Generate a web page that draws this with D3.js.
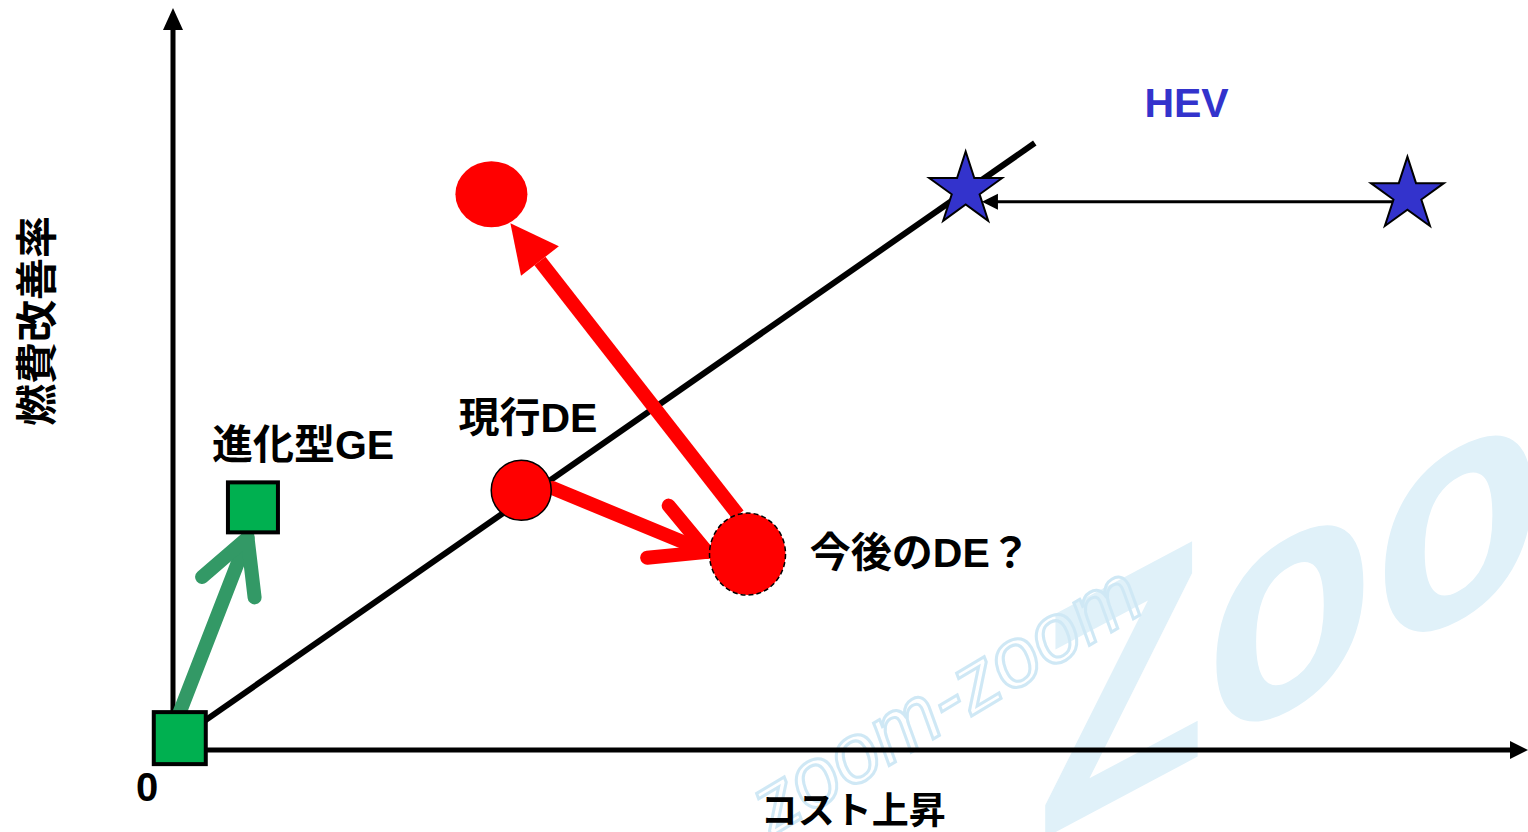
<!DOCTYPE html>
<html>
<head>
<meta charset="utf-8">
<script src="https://cdn.jsdelivr.net/npm/d3@7"></script>
<style>
body { margin: 0; background: #fff; }
svg { display: block; }
</style>
</head>
<body>
<div id="chart"></div>
<script>
const W = 1528, H = 832;

// abstract units: x = cost increase, y = fuel economy improvement (0..100)
const trendLine = [[0.5, 1.6], [63.6, 81.8]];

const squares = [
    { name: 'origin', x: 0.5, y: 1.6 },
    { name: 'GE', x: 5.9, y: 32.7 }
];

const circles = [
    { name: 'currentDE', x: 25.7, y: 35.0 },
    { name: 'futureDE', x: 42.4, y: 26.4 },
    { name: 'targetDE', x: 23.5, y: 74.9 }
];

const stars = [
    { name: 'HEV', x: 58.5, y: 75.5 },
    { name: 'HEVcost', x: 91.1, y: 74.8 }
];

const arrows = [
    { name: 'ge', from: [0.5, 5.1], to: [5.5, 28.6], head: 'open' },
    { name: 'deCost', from: [28.0, 35.3], to: [39.4, 26.7], head: 'open' },
    { name: 'deGoal', from: [41.7, 31.7], to: [24.9, 71.0], head: 'solid' },
    { name: 'hev', from: [90.0, 73.9], to: [59.7, 73.9], head: 'thin' }
];

const labels = [
    { text: 'HEV', x: 74.8, y: 85.3, anchor: 'middle', color: '#3333cc' },
    { text: '現行DE', x: 26.2, y: 42.9, anchor: 'middle', color: '#000' },
    { text: '進化型GE', x: 9.6, y: 39.2, anchor: 'middle', color: '#000' },
    { text: '今後のDE？', x: 47.0, y: 24.7, anchor: 'start', color: '#000' }
];

const xTickLabels = ['0'];
const xTitle = 'コスト上昇';
const yTitle = '燃費改善率';

const x = d3.scaleLinear().domain([0, 100]).range([173, 1528]);
const y = d3.scaleLinear().domain([0, 100]).range([750, 8]);

const svg = d3.select('#chart').append('svg').attr('width', W).attr('height', H);

const font = '"Liberation Sans", "Noto Sans CJK JP", sans-serif';

// faint watermark behind everything
const wm = svg.append('g').attr('class', 'watermark');
wm.append('text')
    .attr('transform', 'translate(1037,842) skewY(-28) scale(1.2,1.38)')
    .attr('font-family', font).attr('font-weight', 'bold')
    .attr('font-size', 230)
    .attr('fill', '#e0f1f9')
    .text('Zoom');
wm.append('text')
    .attr('transform', 'translate(772,836) rotate(-31)')
    .attr('font-family', font).attr('font-style', 'italic')
    .attr('font-size', 84)
    .attr('fill', 'none').attr('stroke', '#cfe8f5').attr('stroke-width', 3)
    .text('zoom-zoom');

function tri(tip, from, len, half) {
    const dx = from[0] - tip[0], dy = from[1] - tip[1];
    const d = Math.hypot(dx, dy), ux = dx / d, uy = dy / d;
    const bx = tip[0] + ux * len, by = tip[1] + uy * len;
    return [[tip[0], tip[1]], [bx - uy * half, by + ux * half], [bx + uy * half, by - ux * half]];
}

// axes with arrow heads
const axes = svg.append('g');
const ox = x(0), oy = y(0);
axes.append('line').attr('x1', ox).attr('y1', oy + 3).attr('x2', ox).attr('y2', y(100) + 18)
    .attr('stroke', '#000').attr('stroke-width', 5);
axes.append('polygon').attr('points', tri([ox, y(100)], [ox, oy], 22, 10).join(' ')).attr('fill', '#000');
axes.append('line').attr('x1', ox - 3).attr('y1', oy).attr('x2', x(100) - 16).attr('y2', oy)
    .attr('stroke', '#000').attr('stroke-width', 5);
axes.append('polygon').attr('points', tri([x(100), oy], [ox, oy], 18, 9).join(' ')).attr('fill', '#000');

axes.selectAll('.tick').data(xTickLabels).join('text')
    .attr('x', ox - 26).attr('y', oy + 51)
    .attr('text-anchor', 'middle')
    .attr('font-family', font).attr('font-weight', 'bold').attr('font-size', 40)
    .text(d => d);

axes.append('text')
    .attr('x', x(50.2)).attr('y', oy + 74)
    .attr('text-anchor', 'middle')
    .attr('font-family', font).attr('font-weight', 'bold').attr('font-size', 37)
    .text(xTitle);

axes.append('text')
    .attr('transform', `translate(${ox - 121},${y(57.8)}) rotate(-90)`)
    .attr('text-anchor', 'middle')
    .attr('font-family', font).attr('font-weight', 'bold').attr('font-size', 42)
    .text(yTitle);

// trend line
svg.append('line')
    .attr('x1', x(trendLine[0][0])).attr('y1', y(trendLine[0][1]))
    .attr('x2', x(trendLine[1][0])).attr('y2', y(trendLine[1][1]))
    .attr('stroke', '#000').attr('stroke-width', 6);

// arrows
const arrowColor = { ge: '#339966', deCost: '#ff0000', deGoal: '#ff0000', hev: '#000' };
const ag = svg.append('g');
arrows.forEach(a => {
    const p0 = [x(a.from[0]), y(a.from[1])], p1 = [x(a.to[0]), y(a.to[1])];
    const c = arrowColor[a.name];
    if (a.head === 'open') {
        ag.append('line').attr('x1', p0[0]).attr('y1', p0[1]).attr('x2', p1[0]).attr('y2', p1[1])
            .attr('stroke', c).attr('stroke-width', 14).attr('stroke-linecap', 'round');
        const ang = Math.atan2(p0[1] - p1[1], p0[0] - p1[0]);
        const len = 60, spread = 28 * Math.PI / 180;
        const arm = s => [p1[0] + len * Math.cos(ang + s), p1[1] + len * Math.sin(ang + s)];
        ag.append('polyline').attr('points', [arm(spread), p1, arm(-spread)].join(' '))
            .attr('fill', 'none').attr('stroke', c).attr('stroke-width', 14)
            .attr('stroke-linecap', 'round').attr('stroke-linejoin', 'miter');
    } else if (a.head === 'solid') {
        const t = tri(p1, p0, 48, 24);
        const bx = (t[1][0] + t[2][0]) / 2, by = (t[1][1] + t[2][1]) / 2;
        ag.append('line').attr('x1', p0[0]).attr('y1', p0[1]).attr('x2', bx).attr('y2', by)
            .attr('stroke', c).attr('stroke-width', 14);
        ag.append('polygon').attr('points', t.join(' ')).attr('fill', c);
    } else {
        const t = tri(p1, p0, 16, 8);
        ag.append('line').attr('x1', p0[0]).attr('y1', p0[1]).attr('x2', p1[0] + 12).attr('y2', p1[1])
            .attr('stroke', c).attr('stroke-width', 3);
        ag.append('polygon').attr('points', t.join(' ')).attr('fill', c);
    }
});

// squares
const sqSize = { origin: 52, GE: 50 };
svg.selectAll('rect.pt').data(squares).join('rect')
    .attr('class', 'pt')
    .attr('x', d => x(d.x) - sqSize[d.name] / 2).attr('y', d => y(d.y) - sqSize[d.name] / 2)
    .attr('width', d => sqSize[d.name]).attr('height', d => sqSize[d.name])
    .attr('fill', '#00b050').attr('stroke', '#000').attr('stroke-width', 4);

// circles
const circStyle = {
    currentDE: { rx: 30, ry: 30, stroke: '#000', dash: null },
    futureDE: { rx: 38, ry: 41, stroke: '#000', dash: '5,3' },
    targetDE: { rx: 36, ry: 33, stroke: 'none', dash: null }
};
svg.selectAll('ellipse').data(circles).join('ellipse')
    .attr('cx', d => x(d.x)).attr('cy', d => y(d.y))
    .attr('rx', d => circStyle[d.name].rx).attr('ry', d => circStyle[d.name].ry)
    .attr('fill', '#ff0000')
    .attr('stroke', d => circStyle[d.name].stroke).attr('stroke-width', 1.5)
    .attr('stroke-dasharray', d => circStyle[d.name].dash);

// stars
const star = d3.symbol().type(d3.symbolStar).size(1650);
svg.selectAll('path.star').data(stars).join('path')
    .attr('class', 'star')
    .attr('transform', d => `translate(${x(d.x)},${y(d.y)})`)
    .attr('d', star)
    .attr('fill', '#3333cc').attr('stroke', '#000').attr('stroke-width', 2);

// labels
svg.selectAll('text.lbl').data(labels).join('text')
    .attr('class', 'lbl')
    .attr('x', d => x(d.x)).attr('y', d => y(d.y))
    .attr('text-anchor', d => d.anchor)
    .attr('font-family', font).attr('font-weight', 'bold')
    .attr('font-size', 41)
    .attr('fill', d => d.color)
    .text(d => d.text);
</script>
</body>
</html>
